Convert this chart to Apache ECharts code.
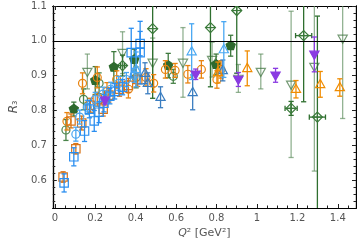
<!DOCTYPE html>
<html><head><meta charset="utf-8">
<script src="https://cdn.jsdelivr.net/npm/echarts@6/dist/echarts.min.js"></script>
<style>html,body{margin:0;padding:0;background:#fff}#c{width:357px;height:244px}</style>
</head><body><div id="c"></div>
<script>
// ---- tick values ----
const xMajorTicks = [0, 0.2, 0.4, 0.6, 0.8, 1.0, 1.2, 1.4];
const xMinorTicks = [0.05, 0.1, 0.15, 0.25, 0.3, 0.35, 0.45, 0.5, 0.55, 0.65, 0.7, 0.75, 0.85, 0.9, 0.95, 1.05, 1.1, 1.15, 1.25, 1.3, 1.35, 1.45];
const yMajorTicks = [0.6, 0.7, 0.8, 0.9, 1.0, 1.1];
const yMinorTicks = [0.54, 0.56, 0.58, 0.62, 0.64, 0.66, 0.68, 0.72, 0.74, 0.76, 0.78, 0.82, 0.84, 0.86, 0.88, 0.92, 0.94, 0.96, 0.98, 1.02, 1.04, 1.06, 1.08];

// ---- data: Q2, R3, error in R3, error in Q2 ----
const sqBlueQ2  = [0.046, 0.094, 0.147, 0.195, 0.171, 0.219, 0.243, 0.272, 0.296, 0.335, 0.378, 0.422, 0.422];
const sqBlueR   = [0.592, 0.667, 0.741, 0.770, 0.804, 0.795, 0.821, 0.841, 0.855, 0.867, 0.966, 0.966, 0.992];
const sqBlueErr = [0.026, 0.026, 0.030, 0.030, 0.025, 0.030, 0.025, 0.022, 0.022, 0.022, 0.070, 0.090, 0.035];

const sqOrQ2  = [0.041, 0.104, 0.080, 0.133, 0.176, 0.210, 0.239, 0.267, 0.320, 0.364, 0.410];
const sqOrR   = [0.609, 0.690, 0.770, 0.764, 0.815, 0.832, 0.804, 0.844, 0.861, 0.872, 0.889];
const sqOrErr = [0.015, 0.015, 0.020, 0.020, 0.020, 0.020, 0.020, 0.020, 0.020, 0.020, 0.020];

const ciBlueQ2  = [0.104, 0.123, 0.161, 0.200, 0.239, 0.277, 0.316, 0.354, 0.393];
const ciBlueR   = [0.732, 0.781, 0.809, 0.832, 0.847, 0.861, 0.878, 0.889, 0.901];
const ciBlueErr = [0.020, 0.020, 0.020, 0.020, 0.020, 0.020, 0.020, 0.020, 0.020];

const ciOrQ2  = [0.060, 0.137, 0.210, 0.258, 0.306, 0.364, 0.451, 0.489, 0.547, 0.595, 0.658, 0.725, 0.802, 0.822];
const ciOrR   = [0.769, 0.878, 0.895, 0.855, 0.889, 0.861, 0.895, 0.878, 0.918, 0.915, 0.904, 0.918, 0.889, 0.918];
const ciOrErr = [0.025, 0.030, 0.030, 0.025, 0.025, 0.025, 0.025, 0.025, 0.025, 0.020, 0.025, 0.025, 0.025, 0.025];

const ciGrQ2  = [0.055, 0.142, 0.219, 0.402, 0.586];
const ciGrR   = [0.744, 0.832, 0.878, 0.895, 0.898];
const ciGrErr = [0.030, 0.030, 0.030, 0.030, 0.020];

const pentQ2  = [0.094, 0.200, 0.292, 0.393, 0.561, 0.798, 0.870];
const pentR   = [0.804, 0.886, 0.924, 0.946, 0.929, 0.932, 0.986];
const pentErr = [0.020, 0.040, 0.045, 0.030, 0.035, 0.030, 0.030];

const tdGrQ2  = [0.161, 0.335, 0.484, 0.634, 0.778, 0.908, 1.019, 1.169, 1.284, 1.424];
const tdGrR   = [0.912, 0.966, 0.938, 0.938, 0.946, 0.892, 0.912, 0.875, 0.926, 1.007];
const tdGrErr = [0.050, 0.060, 0.070, 0.100, 0.050, 0.040, 0.050, 0.210, 0.300, 0.230];

const diQ2   = [0.335, 0.484, 0.770, 0.900, 1.231, 1.169, 1.299];
const diR    = [0.929, 1.035, 1.038, 1.087, 1.015, 0.806, 0.781];
const diErr  = [0.030, 0.200, 0.170, 0.180, 0.190, 0.020, 0.290];
const diXErr = [0.010, 0.000, 0.000, 0.000, 0.040, 0.030, 0.040];

const tuBlueQ2  = [0.446, 0.460, 0.523, 0.682, 0.831];
const tuBlueR   = [0.907, 0.878, 0.838, 0.852, 0.915];
const tuBlueErr = [0.030, 0.030, 0.030, 0.050, 0.030];

const tuLightQ2  = [0.402, 0.677, 0.836];
const tuLightR   = [0.918, 0.969, 0.975];
const tuLightErr = [0.050, 0.080, 0.080];

const tdPurQ2  = [0.248, 0.697, 0.908, 1.092, 1.284];
const tdPurR   = [0.829, 0.904, 0.889, 0.901, 0.961];
const tdPurErr = [0.010, 0.015, 0.020, 0.020, 0.050];

const tuOrQ2  = [0.807, 0.952, 1.193, 1.313, 1.410];
const tuOrR   = [0.909, 0.921, 0.861, 0.875, 0.866];
const tuOrErr = [0.030, 0.050, 0.025, 0.037, 0.025];

function rows(q, r, e, xe) {
  return q.map((v, i) => [v, r[i], e[i], xe ? xe[i] : 0]);
}

function markerShape(kind, x, y, color, fillMarker) {
  const s = 4.2;
  const style = {stroke: color, lineWidth: 1.2, fill: fillMarker ? color : 'none'};
  switch (kind) {
    case 'square': return [{type: 'rect', shape: {x: x - s, y: y - s, width: 2 * s, height: 2 * s}, style}];
    case 'circle': return [{type: 'circle', shape: {cx: x, cy: y, r: 4}, style}];
    case 'triUp': return [{type: 'polygon', shape: {points: [[x, y - 5], [x + 4.6, y + 3.2], [x - 4.6, y + 3.2]]}, style}];
    case 'triDown': return [{type: 'polygon', shape: {points: [[x, y + 5], [x + 4.6, y - 3.2], [x - 4.6, y - 3.2]]}, style}];
    case 'pent': {
      const pts = [];
      for (let k = 0; k < 5; k++) {
        const a = -Math.PI / 2 + k * 2 * Math.PI / 5;
        pts.push([x + 4.8 * Math.cos(a), y + 4.8 * Math.sin(a)]);
      }
      return [{type: 'polygon', shape: {points: pts}, style}];
    }
    case 'diamond': return [
      {type: 'polygon', shape: {points: [[x, y - 5], [x + 5, y], [x, y + 5], [x - 5, y]]}, style},
      {type: 'line', shape: {x1: x - 5, y1: y, x2: x + 5, y2: y}, style: {stroke: color, lineWidth: 1.2}},
      {type: 'line', shape: {x1: x, y1: y - 5, x2: x, y2: y + 5}, style: {stroke: color, lineWidth: 1.2}}
    ];
  }
  return [];
}

function makeSeries(name, data, kind, color, barColor, fillMarker) {
  return {
    type: 'custom', name, data, clip: true,
    renderItem: function (params, api) {
      const q = api.value(0), r = api.value(1), e = api.value(2), xe = api.value(3);
      const c = api.coord([q, r]);
      const lo = api.coord([q, r - e]);
      const hi = api.coord([q, r + e]);
      const ls = {stroke: barColor, lineWidth: 1.3};
      const ch = [
        {type: 'line', shape: {x1: c[0], y1: lo[1], x2: c[0], y2: hi[1]}, style: ls},
        {type: 'line', shape: {x1: c[0] - 2.6, y1: lo[1], x2: c[0] + 2.6, y2: lo[1]}, style: ls},
        {type: 'line', shape: {x1: c[0] - 2.6, y1: hi[1], x2: c[0] + 2.6, y2: hi[1]}, style: ls}
      ];
      if (xe > 0) {
        const l = api.coord([q - xe, r]), rr = api.coord([q + xe, r]);
        ch.push({type: 'line', shape: {x1: l[0], y1: c[1], x2: rr[0], y2: c[1]}, style: ls});
        ch.push({type: 'line', shape: {x1: l[0], y1: c[1] - 2.6, x2: l[0], y2: c[1] + 2.6}, style: ls});
        ch.push({type: 'line', shape: {x1: rr[0], y1: c[1] - 2.6, x2: rr[0], y2: c[1] + 2.6}, style: ls});
      }
      return {type: 'group', children: ch.concat(markerShape(kind, c[0], c[1], color, fillMarker))};
    }
  };
}

const series = [
  makeSeries('tdGreen', rows(tdGrQ2, tdGrR, tdGrErr), 'triDown', 'rgba(70,120,70,0.75)', 'rgba(100,145,100,0.7)', false),
  makeSeries('diamond', rows(diQ2, diR, diErr, diXErr), 'diamond', '#3a7a3a', '#2f6f2f', false),
  makeSeries('ciGreen', rows(ciGrQ2, ciGrR, ciGrErr), 'circle', '#4a844a', '#4a844a', false),
  makeSeries('pent', rows(pentQ2, pentR, pentErr), 'pent', '#2e6a2e', '#3e7a3e', true),
  makeSeries('ciOrange', rows(ciOrQ2, ciOrR, ciOrErr), 'circle', '#e8830f', '#e8830f', false),
  makeSeries('sqOrange', rows(sqOrQ2, sqOrR, sqOrErr), 'square', '#d87418', '#d87418', false),
  makeSeries('ciBlue', rows(ciBlueQ2, ciBlueR, ciBlueErr), 'circle', '#4aa6f0', '#4aa6f0', false),
  makeSeries('sqBlue', rows(sqBlueQ2, sqBlueR, sqBlueErr), 'square', '#2a8ef0', '#2a8ef0', false),
  makeSeries('tuBlue', rows(tuBlueQ2, tuBlueR, tuBlueErr), 'triUp', '#3a7dc0', '#3a7dc0', false),
  makeSeries('tuLight', rows(tuLightQ2, tuLightR, tuLightErr), 'triUp', '#4aa8f2', '#4aa8f2', false),
  makeSeries('tuOrange', rows(tuOrQ2, tuOrR, tuOrErr), 'triUp', '#f08c00', '#f08c00', false),
  makeSeries('tdPurple', rows(tdPurQ2, tdPurR, tdPurErr), 'triDown', '#8a3be2', '#8a3be2', true)
];
series[0].markLine = {
  silent: true, symbol: 'none', label: {show: false}, animation: false,
  lineStyle: {color: '#000', width: 1.2, type: 'solid'},
  data: [{yAxis: 1.0}]
};

const labelColor = '#555';
const fontFam = 'DejaVu Sans';
const xmin = -0.01, xmax = 1.49, ymin = 0.52, ymax = 1.1;

function xAx(pos, ticks, len, showLabel, showName) {
  return {
    type: 'value', position: pos, min: xmin, max: xmax,
    splitLine: {show: false},
    axisLine: {show: true, onZero: false, lineStyle: {color: '#000', width: 1.2}},
    axisTick: {show: true, inside: true, length: len, customValues: ticks, lineStyle: {color: '#222', width: 1}},
    axisLabel: {show: showLabel, customValues: ticks, margin: 5, color: labelColor, fontSize: 10, fontFamily: fontFam,
      formatter: v => String(Math.round(v * 10) / 10)},
    name: showName ? '{i|Q}{n|² [GeV²]}' : '', nameLocation: 'middle', nameGap: 20,
    nameTextStyle: {rich: {i: {fontStyle: 'italic', fontSize: 11, color: labelColor, fontFamily: fontFam},
                            n: {fontSize: 11, color: labelColor, fontFamily: fontFam}}}
  };
}
function yAx(pos, ticks, len, showLabel, showName) {
  return {
    type: 'value', position: pos, min: ymin, max: ymax,
    splitLine: {show: false},
    axisLine: {show: true, onZero: false, lineStyle: {color: '#000', width: 1.2}},
    axisTick: {show: true, inside: true, length: len, customValues: ticks, lineStyle: {color: '#222', width: 1}},
    axisLabel: {show: showLabel, customValues: ticks, margin: 6, color: labelColor, fontSize: 10, fontFamily: fontFam,
      formatter: v => v.toFixed(1)},
    name: showName ? '{i|R}{n|₃}' : '', nameLocation: 'middle', nameGap: 32, nameRotate: 90,
    nameTextStyle: {rich: {i: {fontStyle: 'italic', fontSize: 12, color: labelColor, fontFamily: fontFam},
                            n: {fontSize: 11, color: labelColor, fontFamily: fontFam}}}
  };
}

const chart = echarts.init(document.getElementById('c'), null, {renderer: 'canvas'});
chart.setOption({
  animation: false,
  backgroundColor: '#fff',
  grid: {left: 45, right: 1, top: 6, bottom: 35, containLabel: false},
  xAxis: [
    xAx('bottom', xMajorTicks, 4, true, true),
    xAx('top', xMajorTicks, 4, false, false),
    xAx('bottom', xMinorTicks, 2.5, false, false),
    xAx('top', xMinorTicks, 2.5, false, false)
  ],
  yAxis: [
    yAx('left', yMajorTicks, 4, true, true),
    yAx('right', yMajorTicks, 4, false, false),
    yAx('left', yMinorTicks, 2.5, false, false),
    yAx('right', yMinorTicks, 2.5, false, false)
  ],
  series: series
});
</script>
</body></html>
